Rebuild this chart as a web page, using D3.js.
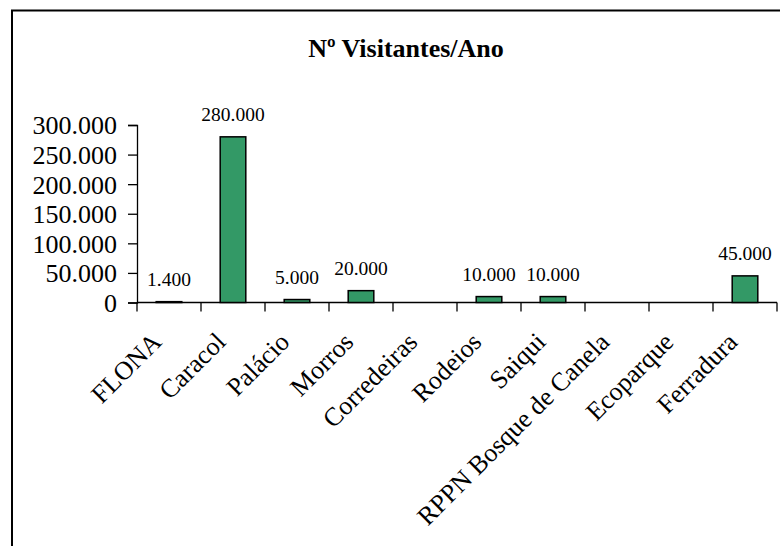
<!DOCTYPE html>
<html lang="en">
  <head>
    <meta charset="utf-8">
    <title>Visitantes por ano</title>
    <script src="https://cdn.jsdelivr.net/npm/d3@7"></script>
    <style>
      body { margin: 0; background: #fff; }
      text { font-family: "Liberation Serif", "Times New Roman", serif; fill: #000; }
    </style>
  </head>

  <body>
    <div id="chart"></div>

    <script>
      // data (null = no bar, no label)
      const categories = ["FLONA", "Caracol", "Palácio", "Morros", "Corredeiras",
                          "Rodeios", "Saiqui", "RPPN Bosque de Canela", "Ecoparque", "Ferradura"];
      const visitors = [1400, 280000, 5000, 20000, null, 10000, 10000, null, null, 45000];
      const yTicks = [0, 50000, 100000, 150000, 200000, 250000, 300000];
      const title = "Nº Visitantes/Ano";

      const W = 780, H = 546;
      // plot area
      const x0 = 137, x1 = 777, y0 = 302.5, y1 = 125;

      // numbers with a dot as thousands separator
      const fmt = d3.formatLocale({decimal: ",", thousands: ".", grouping: [3], currency: ["", ""]}).format(",d");

      const svg = d3.select("#chart")
        .append("svg")
          .attr("width", W)
          .attr("height", H);

      // outer frame, runs off the right and bottom edge
      svg.append("rect")
        .attr("x", 12).attr("y", 10.5)
        .attr("width", 900).attr("height", 700)
        .attr("fill", "none")
        .attr("stroke", "#000")
        .attr("stroke-width", 2);

      svg.append("text")
        .attr("x", 406).attr("y", 57)
        .attr("text-anchor", "middle")
        .style("font-size", "26px")
        .style("font-weight", "bold")
        .text(title);

      let x = d3.scaleBand()
        .domain(categories)
        .range([x0, x1])
        .paddingInner(0.6)
        .paddingOuter(0.3);

      let y = d3.scaleLinear()
        .domain([0, 300000])
        .range([y0, y1]);

      // Y axis
      let yAxis = svg.append("g")
        .attr("transform", "translate(" + x0 + ",0)")
        .call(d3.axisLeft(y).tickValues(yTicks).tickFormat(fmt).tickSize(9).tickPadding(11));
      yAxis.select(".domain").attr("stroke", "#000").attr("stroke-width", 1.3);
      yAxis.selectAll(".tick line").attr("stroke", "#000").attr("stroke-width", 1.3);
      yAxis.selectAll(".tick text")
        .style("font-size", "26px")
        .attr("font-family", null)
        .attr("dy", "0.34em");

      // X axis: ticks sit between categories
      let step = x.step();
      let bounds = d3.range(categories.length + 1).map(i => x0 + i * step);
      let xAxis = svg.append("g");
      xAxis.append("line")
        .attr("x1", x0).attr("x2", x1)
        .attr("y1", y0).attr("y2", y0)
        .attr("stroke", "#000").attr("stroke-width", 1.3);
      xAxis.selectAll("line.tk")
        .data(bounds)
        .enter().append("line")
          .attr("class", "tk")
          .attr("x1", d => d).attr("x2", d => d)
          .attr("y1", y0).attr("y2", y0 + 9)
          .attr("stroke", "#000").attr("stroke-width", 1.3);

      xAxis.selectAll("text.cat")
        .data(categories)
        .enter().append("text")
          .attr("class", "cat")
          .attr("text-anchor", "end")
          .style("font-size", "26px")
          .attr("transform", d => "translate(" + (x(d) + x.bandwidth() / 2 - 6) + "," + (y0 + 41) + ") rotate(-45)")
          .text(d => d);

      // bars
      let rows = categories.map((c, i) => ({cat: c, v: visitors[i]})).filter(d => d.v !== null);

      svg.append("g").selectAll("rect")
        .data(rows)
        .enter().append("rect")
          .attr("x", d => x(d.cat))
          .attr("width", x.bandwidth())
          .attr("y", d => y(d.v))
          .attr("height", d => y0 - y(d.v))
          .attr("fill", "#339966")
          .attr("stroke", "#000")
          .attr("stroke-width", 1.5);

      svg.append("g").selectAll("text")
        .data(rows)
        .enter().append("text")
          .attr("x", d => x(d.cat) + x.bandwidth() / 2)
          .attr("y", d => y(d.v) - 16)
          .attr("text-anchor", "middle")
          .style("font-size", "19.5px")
          .text(d => fmt(d.v));
    </script>
  </body>
</html>
